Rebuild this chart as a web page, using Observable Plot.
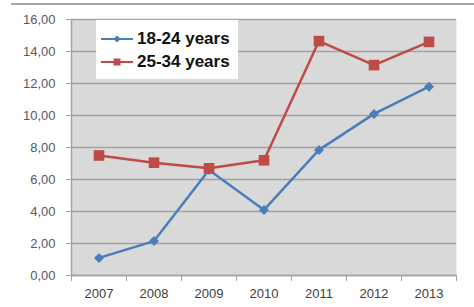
<!DOCTYPE html>
<html>
<head>
<meta charset="utf-8">
<script src="https://cdn.jsdelivr.net/npm/d3@7"></script>
<script src="https://cdn.jsdelivr.net/npm/@observablehq/plot@0.6"></script>
<style>
  html, body { margin: 0; padding: 0; background: #fff; }
  #wrap { position: relative; width: 474px; height: 307px; overflow: hidden; font-family: "Liberation Sans", Arial, sans-serif; }
  #topline { position: absolute; top: 3px; left: 11px; right: 0; border-top: 2px solid #a6a6a6; }
  #legend { position: absolute; left: 96px; top: 20px; width: 142px; height: 59px; background: #fff; }
  .item { position: absolute; left: 4px; height: 20px; display: flex; align-items: center; font-weight: bold; font-size: 17px; color: #111; }
  .item svg { margin-right: 3px; }
</style>
</head>
<body>
<div id="wrap">
  <div id="topline"></div>
  <div id="chart"></div>
  <div id="legend"></div>
</div>
<script>
const years = [2007, 2008, 2009, 2010, 2011, 2012, 2013];
const age18to24 = [1.10, 2.15, 6.60, 4.10, 7.85, 10.10, 11.80];
const age25to34 = [7.50, 7.05, 6.70, 7.20, 14.65, 13.15, 14.60];
const seriesNames = ["18-24 years", "25-34 years"];
const yTicks = [0, 2, 4, 6, 8, 10, 12, 14, 16];

const blue = "#4a7ebb";
const red = "#be4b48";

const dYoung = years.map((y, i) => ({year: y, value: age18to24[i]}));
const dOld = years.map((y, i) => ({year: y, value: age25to34[i]}));
const bounds = years.map(y => y - 0.5).concat([years[years.length - 1] + 0.5]);

const chart = Plot.plot({
  width: 474,
  height: 307,
  marginLeft: 71,
  marginRight: 18,
  marginTop: 19,
  marginBottom: 32,
  style: {fontFamily: "'Liberation Sans', Arial, sans-serif", fontSize: "13px", background: "transparent", overflow: "visible"},
  x: {domain: [bounds[0], bounds[bounds.length - 1]]},
  y: {domain: [0, 16]},
  marks: [
    Plot.frame({fill: "#d9d9d9", stroke: null}),
    Plot.gridY(yTicks, {stroke: "#a3a3a3", strokeOpacity: 1, strokeWidth: 1.5}),
    Plot.ruleX([bounds[0]], {stroke: "#a3a3a3", strokeWidth: 1.5}),
    Plot.ruleY([0], {stroke: "#a3a3a3", strokeWidth: 1.5}),
    Plot.axisY(yTicks, {tickSize: 5, tickPadding: 11, tickFormat: d => d.toFixed(2).replace(".", ","), stroke: "#a3a3a3", fill: "#595959", label: null}),
    Plot.axisX(bounds, {tickSize: 6, tickFormat: () => "", stroke: "#a3a3a3", label: null}),
    Plot.axisX(years, {tickSize: 0, tickPadding: 13, tickFormat: d => String(d), fill: "#404040", label: null}),
    Plot.line(dYoung, {x: "year", y: "value", stroke: blue, strokeWidth: 2.5}),
    Plot.dot(dYoung, {x: "year", y: "value", symbol: "square", r: 4, rotate: 45, fill: blue, stroke: null}),
    Plot.line(dOld, {x: "year", y: "value", stroke: red, strokeWidth: 2.5}),
    Plot.dot(dOld, {x: "year", y: "value", symbol: "square", r: 6, fill: red, stroke: null})
  ]
});
document.getElementById("chart").appendChild(chart);

const legend = document.getElementById("legend");
const swatches = [
  `<svg width="34" height="14"><line x1="1" y1="7" x2="33" y2="7" stroke="${blue}" stroke-width="2"/><rect x="14.5" y="4.5" width="5" height="5" fill="${blue}" transform="rotate(45 17 7)"/></svg>`,
  `<svg width="34" height="14"><line x1="1" y1="7" x2="33" y2="7" stroke="${red}" stroke-width="2"/><rect x="13.5" y="3.5" width="7" height="7" fill="${red}"/></svg>`
];
seriesNames.forEach((name, i) => {
  const div = document.createElement("div");
  div.className = "item";
  div.style.top = (9 + i * 23) + "px";
  div.innerHTML = swatches[i] + `<span>${name}</span>`;
  legend.appendChild(div);
});
</script>
</body>
</html>
